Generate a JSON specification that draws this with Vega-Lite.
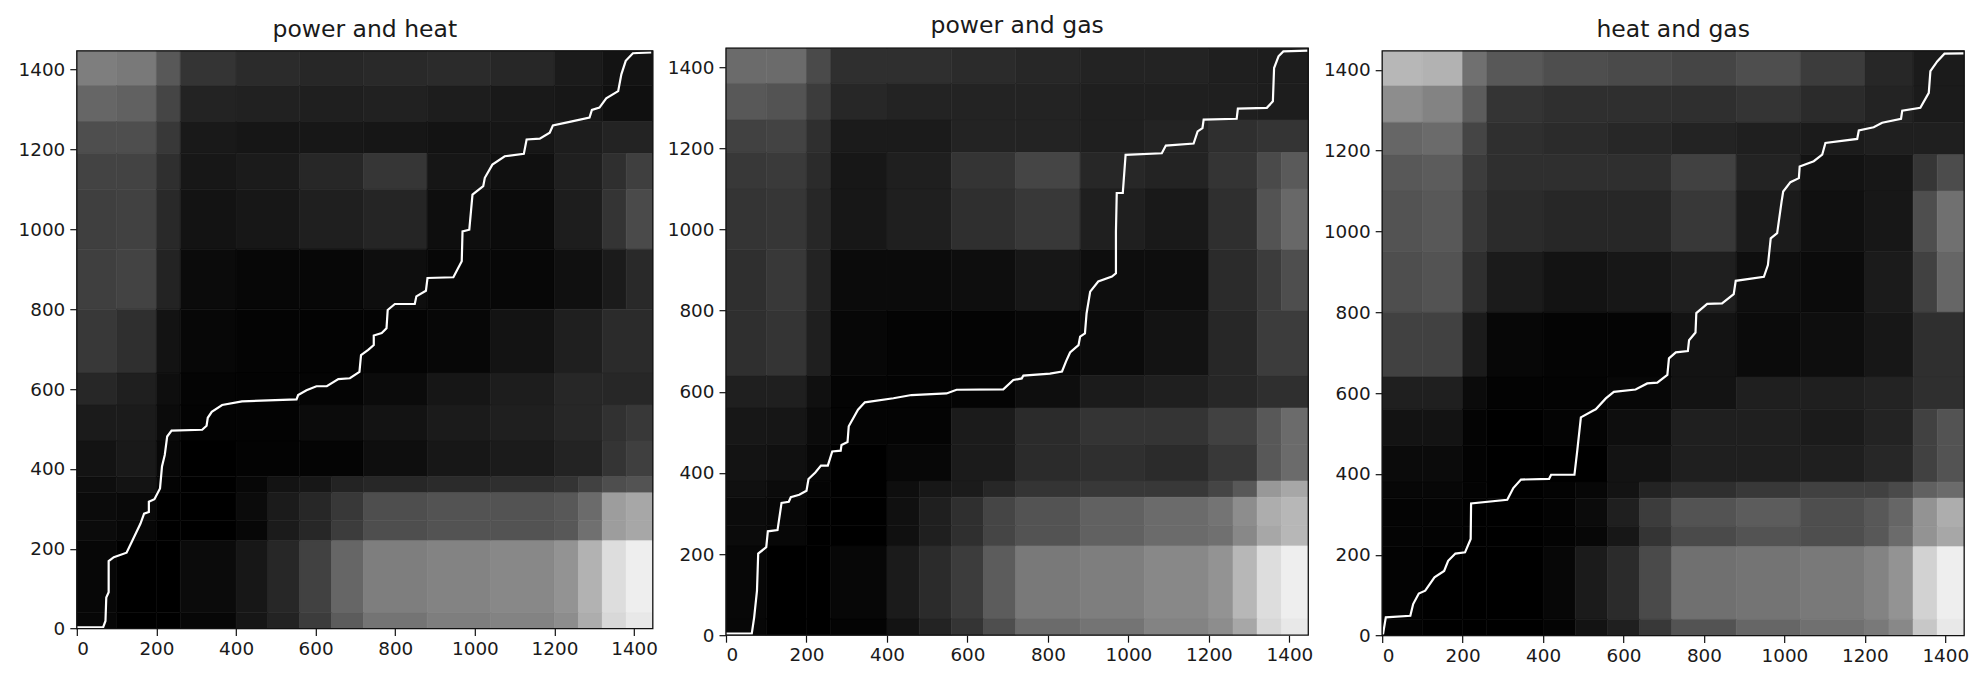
{"$schema":"https://vega.github.io/schema/vega-lite/v6.json","background":"white","padding":{"left":17.8,"top":14.2,"right":0,"bottom":0},"bounds":"flush","spacing":73.2,"config":{"view":{"stroke":null},"font":"DejaVu Sans","title":{"font":"DejaVu Sans","fontSize":23.5,"fontWeight":"normal","color":"#1a1a1a","anchor":"middle","baseline":"alphabetic"}},"datasets":{"f":[{"x":0,"x2":1447,"y":0,"y2":1447}],"a":[
{"x":0,"x2":100,"y":1360,"y2":1447,"v":135},{"x":100,"x2":200,"y":1360,"y2":1447,"v":130},{"x":200,"x2":260,"y":1360,"y2":1447,"v":95},{"x":260,"x2":400,"y":1360,"y2":1447,"v":55},{"x":400,"x2":560,"y":1360,"y2":1447,"v":45},{"x":560,"x2":720,"y":1360,"y2":1447,"v":40},{"x":720,"x2":880,"y":1360,"y2":1447,"v":42},{"x":880,"x2":1040,"y":1360,"y2":1447,"v":45},{"x":1040,"x2":1200,"y":1360,"y2":1447,"v":40},{"x":1200,"x2":1320,"y":1360,"y2":1447,"v":25},{"x":1320,"x2":1447,"y":1360,"y2":1447,"v":15},
{"x":0,"x2":100,"y":1270,"y2":1360,"v":110},{"x":100,"x2":200,"y":1270,"y2":1360,"v":105},{"x":200,"x2":260,"y":1270,"y2":1360,"v":75},{"x":260,"x2":400,"y":1270,"y2":1360,"v":35},{"x":400,"x2":560,"y":1270,"y2":1360,"v":32},{"x":560,"x2":720,"y":1270,"y2":1360,"v":30},{"x":720,"x2":880,"y":1270,"y2":1360,"v":32},{"x":880,"x2":1040,"y":1270,"y2":1360,"v":28},{"x":1040,"x2":1200,"y":1270,"y2":1360,"v":22},{"x":1200,"x2":1320,"y":1270,"y2":1360,"v":20},{"x":1320,"x2":1447,"y":1270,"y2":1360,"v":12},
{"x":0,"x2":100,"y":1190,"y2":1270,"v":85},{"x":100,"x2":200,"y":1190,"y2":1270,"v":85},{"x":200,"x2":260,"y":1190,"y2":1270,"v":60},{"x":260,"x2":400,"y":1190,"y2":1270,"v":22},{"x":400,"x2":560,"y":1190,"y2":1270,"v":18},{"x":560,"x2":720,"y":1190,"y2":1270,"v":20},{"x":720,"x2":880,"y":1190,"y2":1270,"v":18},{"x":880,"x2":1040,"y":1190,"y2":1270,"v":15},{"x":1040,"x2":1200,"y":1190,"y2":1270,"v":18},{"x":1200,"x2":1320,"y":1190,"y2":1270,"v":28},{"x":1320,"x2":1447,"y":1190,"y2":1270,"v":35},
{"x":0,"x2":100,"y":1100,"y2":1190,"v":72},{"x":100,"x2":200,"y":1100,"y2":1190,"v":72},{"x":200,"x2":260,"y":1100,"y2":1190,"v":50},{"x":260,"x2":400,"y":1100,"y2":1190,"v":20},{"x":400,"x2":560,"y":1100,"y2":1190,"v":25},{"x":560,"x2":720,"y":1100,"y2":1190,"v":40},{"x":720,"x2":880,"y":1100,"y2":1190,"v":58},{"x":880,"x2":1040,"y":1100,"y2":1190,"v":18},{"x":1040,"x2":1200,"y":1100,"y2":1190,"v":12},{"x":1200,"x2":1320,"y":1100,"y2":1190,"v":30},{"x":1320,"x2":1380,"y":1100,"y2":1190,"v":50},{"x":1380,"x2":1447,"y":1100,"y2":1190,"v":68},
{"x":0,"x2":100,"y":950,"y2":1100,"v":68},{"x":100,"x2":200,"y":950,"y2":1100,"v":70},{"x":200,"x2":260,"y":950,"y2":1100,"v":42},{"x":260,"x2":400,"y":950,"y2":1100,"v":15},{"x":400,"x2":560,"y":950,"y2":1100,"v":20},{"x":560,"x2":720,"y":950,"y2":1100,"v":30},{"x":720,"x2":880,"y":950,"y2":1100,"v":38},{"x":880,"x2":1040,"y":950,"y2":1100,"v":10},{"x":1040,"x2":1200,"y":950,"y2":1100,"v":8},{"x":1200,"x2":1320,"y":950,"y2":1100,"v":28},{"x":1320,"x2":1380,"y":950,"y2":1100,"v":55},{"x":1380,"x2":1447,"y":950,"y2":1100,"v":80},
{"x":0,"x2":100,"y":800,"y2":950,"v":68},{"x":100,"x2":200,"y":800,"y2":950,"v":72},{"x":200,"x2":260,"y":800,"y2":950,"v":35},{"x":260,"x2":400,"y":800,"y2":950,"v":8},{"x":400,"x2":560,"y":800,"y2":950,"v":5},{"x":560,"x2":720,"y":800,"y2":950,"v":5},{"x":720,"x2":880,"y":800,"y2":950,"v":10},{"x":880,"x2":1040,"y":800,"y2":950,"v":5},{"x":1040,"x2":1200,"y":800,"y2":950,"v":5},{"x":1200,"x2":1320,"y":800,"y2":950,"v":12},{"x":1320,"x2":1380,"y":800,"y2":950,"v":25},{"x":1380,"x2":1447,"y":800,"y2":950,"v":42},
{"x":0,"x2":100,"y":640,"y2":800,"v":60},{"x":100,"x2":200,"y":640,"y2":800,"v":50},{"x":200,"x2":260,"y":640,"y2":800,"v":15},{"x":260,"x2":400,"y":640,"y2":800,"v":5},{"x":400,"x2":560,"y":640,"y2":800,"v":3},{"x":560,"x2":720,"y":640,"y2":800,"v":2},{"x":720,"x2":880,"y":640,"y2":800,"v":3},{"x":880,"x2":1040,"y":640,"y2":800,"v":5},{"x":1040,"x2":1200,"y":640,"y2":800,"v":15},{"x":1200,"x2":1320,"y":640,"y2":800,"v":30},{"x":1320,"x2":1447,"y":640,"y2":800,"v":45},
{"x":0,"x2":100,"y":560,"y2":640,"v":40},{"x":100,"x2":200,"y":560,"y2":640,"v":30},{"x":200,"x2":260,"y":560,"y2":640,"v":10},{"x":260,"x2":400,"y":560,"y2":640,"v":3},{"x":400,"x2":560,"y":560,"y2":640,"v":2},{"x":560,"x2":720,"y":560,"y2":640,"v":3},{"x":720,"x2":880,"y":560,"y2":640,"v":8},{"x":880,"x2":1040,"y":560,"y2":640,"v":18},{"x":1040,"x2":1200,"y":560,"y2":640,"v":28},{"x":1200,"x2":1320,"y":560,"y2":640,"v":40},{"x":1320,"x2":1447,"y":560,"y2":640,"v":40},
{"x":0,"x2":100,"y":470,"y2":560,"v":25},{"x":100,"x2":200,"y":470,"y2":560,"v":25},{"x":200,"x2":260,"y":470,"y2":560,"v":8},{"x":260,"x2":400,"y":470,"y2":560,"v":2},{"x":400,"x2":560,"y":470,"y2":560,"v":2},{"x":560,"x2":720,"y":470,"y2":560,"v":8},{"x":720,"x2":880,"y":470,"y2":560,"v":15},{"x":880,"x2":1040,"y":470,"y2":560,"v":25},{"x":1040,"x2":1200,"y":470,"y2":560,"v":30},{"x":1200,"x2":1320,"y":470,"y2":560,"v":40},{"x":1320,"x2":1380,"y":470,"y2":560,"v":52},{"x":1380,"x2":1447,"y":470,"y2":560,"v":60},
{"x":0,"x2":100,"y":380,"y2":470,"v":15},{"x":100,"x2":200,"y":380,"y2":470,"v":22},{"x":200,"x2":260,"y":380,"y2":470,"v":5},{"x":260,"x2":400,"y":380,"y2":470,"v":0},{"x":400,"x2":560,"y":380,"y2":470,"v":2},{"x":560,"x2":720,"y":380,"y2":470,"v":3},{"x":720,"x2":880,"y":380,"y2":470,"v":10},{"x":880,"x2":1040,"y":380,"y2":470,"v":20},{"x":1040,"x2":1200,"y":380,"y2":470,"v":25},{"x":1200,"x2":1320,"y":380,"y2":470,"v":35},{"x":1320,"x2":1380,"y":380,"y2":470,"v":55},{"x":1380,"x2":1447,"y":380,"y2":470,"v":68},
{"x":0,"x2":100,"y":340,"y2":380,"v":10},{"x":100,"x2":200,"y":340,"y2":380,"v":15},{"x":200,"x2":260,"y":340,"y2":380,"v":3},{"x":260,"x2":400,"y":340,"y2":380,"v":0},{"x":400,"x2":480,"y":340,"y2":380,"v":5},{"x":480,"x2":560,"y":340,"y2":380,"v":15},{"x":560,"x2":640,"y":340,"y2":380,"v":20},{"x":640,"x2":720,"y":340,"y2":380,"v":35},{"x":720,"x2":880,"y":340,"y2":380,"v":40},{"x":880,"x2":1040,"y":340,"y2":380,"v":45},{"x":1040,"x2":1200,"y":340,"y2":380,"v":50},{"x":1200,"x2":1260,"y":340,"y2":380,"v":55},{"x":1260,"x2":1320,"y":340,"y2":380,"v":70},{"x":1320,"x2":1380,"y":340,"y2":380,"v":85},{"x":1380,"x2":1447,"y":340,"y2":380,"v":90},
{"x":0,"x2":100,"y":270,"y2":340,"v":8},{"x":100,"x2":200,"y":270,"y2":340,"v":6},{"x":200,"x2":260,"y":270,"y2":340,"v":0},{"x":260,"x2":400,"y":270,"y2":340,"v":0},{"x":400,"x2":480,"y":270,"y2":340,"v":8},{"x":480,"x2":560,"y":270,"y2":340,"v":25},{"x":560,"x2":640,"y":270,"y2":340,"v":40},{"x":640,"x2":720,"y":270,"y2":340,"v":60},{"x":720,"x2":880,"y":270,"y2":340,"v":85},{"x":880,"x2":1040,"y":270,"y2":340,"v":90},{"x":1040,"x2":1200,"y":270,"y2":340,"v":90},{"x":1200,"x2":1260,"y":270,"y2":340,"v":95},{"x":1260,"x2":1320,"y":270,"y2":340,"v":115},{"x":1320,"x2":1380,"y":270,"y2":340,"v":165},{"x":1380,"x2":1447,"y":270,"y2":340,"v":175},
{"x":0,"x2":100,"y":220,"y2":270,"v":8},{"x":100,"x2":200,"y":220,"y2":270,"v":5},{"x":200,"x2":260,"y":220,"y2":270,"v":0},{"x":260,"x2":400,"y":220,"y2":270,"v":0},{"x":400,"x2":480,"y":220,"y2":270,"v":5},{"x":480,"x2":560,"y":220,"y2":270,"v":25},{"x":560,"x2":640,"y":220,"y2":270,"v":40},{"x":640,"x2":720,"y":220,"y2":270,"v":65},{"x":720,"x2":880,"y":220,"y2":270,"v":85},{"x":880,"x2":1040,"y":220,"y2":270,"v":90},{"x":1040,"x2":1200,"y":220,"y2":270,"v":90},{"x":1200,"x2":1260,"y":220,"y2":270,"v":95},{"x":1260,"x2":1320,"y":220,"y2":270,"v":120},{"x":1320,"x2":1380,"y":220,"y2":270,"v":165},{"x":1380,"x2":1447,"y":220,"y2":270,"v":175},
{"x":0,"x2":100,"y":40,"y2":220,"v":5},{"x":100,"x2":200,"y":40,"y2":220,"v":0},{"x":200,"x2":260,"y":40,"y2":220,"v":0},{"x":260,"x2":400,"y":40,"y2":220,"v":8},{"x":400,"x2":480,"y":40,"y2":220,"v":20},{"x":480,"x2":560,"y":40,"y2":220,"v":40},{"x":560,"x2":640,"y":40,"y2":220,"v":70},{"x":640,"x2":720,"y":40,"y2":220,"v":110},{"x":720,"x2":880,"y":40,"y2":220,"v":135},{"x":880,"x2":1040,"y":40,"y2":220,"v":140},{"x":1040,"x2":1200,"y":40,"y2":220,"v":145},{"x":1200,"x2":1260,"y":40,"y2":220,"v":155},{"x":1260,"x2":1320,"y":40,"y2":220,"v":185},{"x":1320,"x2":1380,"y":40,"y2":220,"v":225},{"x":1380,"x2":1447,"y":40,"y2":220,"v":240},
{"x":0,"x2":100,"y":0,"y2":40,"v":5},{"x":100,"x2":200,"y":0,"y2":40,"v":0},{"x":200,"x2":260,"y":0,"y2":40,"v":0},{"x":260,"x2":400,"y":0,"y2":40,"v":5},{"x":400,"x2":480,"y":0,"y2":40,"v":18},{"x":480,"x2":560,"y":0,"y2":40,"v":35},{"x":560,"x2":640,"y":0,"y2":40,"v":65},{"x":640,"x2":720,"y":0,"y2":40,"v":100},{"x":720,"x2":880,"y":0,"y2":40,"v":125},{"x":880,"x2":1040,"y":0,"y2":40,"v":135},{"x":1040,"x2":1200,"y":0,"y2":40,"v":140},{"x":1200,"x2":1260,"y":0,"y2":40,"v":150},{"x":1260,"x2":1320,"y":0,"y2":40,"v":180},{"x":1320,"x2":1380,"y":0,"y2":40,"v":220},{"x":1380,"x2":1447,"y":0,"y2":40,"v":235}
],"b":[
{"x":0,"x2":100,"y":1360,"y2":1447,"v":115},{"x":100,"x2":200,"y":1360,"y2":1447,"v":115},{"x":200,"x2":260,"y":1360,"y2":1447,"v":80},{"x":260,"x2":400,"y":1360,"y2":1447,"v":50},{"x":400,"x2":560,"y":1360,"y2":1447,"v":50},{"x":560,"x2":720,"y":1360,"y2":1447,"v":45},{"x":720,"x2":880,"y":1360,"y2":1447,"v":40},{"x":880,"x2":1040,"y":1360,"y2":1447,"v":35},{"x":1040,"x2":1200,"y":1360,"y2":1447,"v":35},{"x":1200,"x2":1320,"y":1360,"y2":1447,"v":30},{"x":1320,"x2":1447,"y":1360,"y2":1447,"v":28},
{"x":0,"x2":100,"y":1270,"y2":1360,"v":95},{"x":100,"x2":200,"y":1270,"y2":1360,"v":90},{"x":200,"x2":260,"y":1270,"y2":1360,"v":65},{"x":260,"x2":400,"y":1270,"y2":1360,"v":40},{"x":400,"x2":560,"y":1270,"y2":1360,"v":35},{"x":560,"x2":720,"y":1270,"y2":1360,"v":35},{"x":720,"x2":880,"y":1270,"y2":1360,"v":35},{"x":880,"x2":1040,"y":1270,"y2":1360,"v":30},{"x":1040,"x2":1200,"y":1270,"y2":1360,"v":30},{"x":1200,"x2":1320,"y":1270,"y2":1360,"v":30},{"x":1320,"x2":1447,"y":1270,"y2":1360,"v":28},
{"x":0,"x2":100,"y":1190,"y2":1270,"v":70},{"x":100,"x2":200,"y":1190,"y2":1270,"v":72},{"x":200,"x2":260,"y":1190,"y2":1270,"v":50},{"x":260,"x2":400,"y":1190,"y2":1270,"v":25},{"x":400,"x2":560,"y":1190,"y2":1270,"v":25},{"x":560,"x2":720,"y":1190,"y2":1270,"v":35},{"x":720,"x2":880,"y":1190,"y2":1270,"v":35},{"x":880,"x2":1040,"y":1190,"y2":1270,"v":30},{"x":1040,"x2":1200,"y":1190,"y2":1270,"v":35},{"x":1200,"x2":1320,"y":1190,"y2":1270,"v":50},{"x":1320,"x2":1447,"y":1190,"y2":1270,"v":55},
{"x":0,"x2":100,"y":1100,"y2":1190,"v":60},{"x":100,"x2":200,"y":1100,"y2":1190,"v":62},{"x":200,"x2":260,"y":1100,"y2":1190,"v":45},{"x":260,"x2":400,"y":1100,"y2":1190,"v":20},{"x":400,"x2":560,"y":1100,"y2":1190,"v":30},{"x":560,"x2":720,"y":1100,"y2":1190,"v":55},{"x":720,"x2":880,"y":1100,"y2":1190,"v":75},{"x":880,"x2":1040,"y":1100,"y2":1190,"v":40},{"x":1040,"x2":1200,"y":1100,"y2":1190,"v":35},{"x":1200,"x2":1320,"y":1100,"y2":1190,"v":55},{"x":1320,"x2":1380,"y":1100,"y2":1190,"v":80},{"x":1380,"x2":1447,"y":1100,"y2":1190,"v":98},
{"x":0,"x2":100,"y":950,"y2":1100,"v":55},{"x":100,"x2":200,"y":950,"y2":1100,"v":58},{"x":200,"x2":260,"y":950,"y2":1100,"v":40},{"x":260,"x2":400,"y":950,"y2":1100,"v":20},{"x":400,"x2":560,"y":950,"y2":1100,"v":30},{"x":560,"x2":720,"y":950,"y2":1100,"v":50},{"x":720,"x2":880,"y":950,"y2":1100,"v":60},{"x":880,"x2":1040,"y":950,"y2":1100,"v":30},{"x":1040,"x2":1200,"y":950,"y2":1100,"v":22},{"x":1200,"x2":1320,"y":950,"y2":1100,"v":50},{"x":1320,"x2":1380,"y":950,"y2":1100,"v":90},{"x":1380,"x2":1447,"y":950,"y2":1100,"v":112},
{"x":0,"x2":100,"y":800,"y2":950,"v":50},{"x":100,"x2":200,"y":800,"y2":950,"v":60},{"x":200,"x2":260,"y":800,"y2":950,"v":35},{"x":260,"x2":400,"y":800,"y2":950,"v":8},{"x":400,"x2":560,"y":800,"y2":950,"v":8},{"x":560,"x2":720,"y":800,"y2":950,"v":10},{"x":720,"x2":880,"y":800,"y2":950,"v":20},{"x":880,"x2":1040,"y":800,"y2":950,"v":10},{"x":1040,"x2":1200,"y":800,"y2":950,"v":10},{"x":1200,"x2":1320,"y":800,"y2":950,"v":45},{"x":1320,"x2":1380,"y":800,"y2":950,"v":65},{"x":1380,"x2":1447,"y":800,"y2":950,"v":85},
{"x":0,"x2":100,"y":640,"y2":800,"v":50},{"x":100,"x2":200,"y":640,"y2":800,"v":55},{"x":200,"x2":260,"y":640,"y2":800,"v":30},{"x":260,"x2":400,"y":640,"y2":800,"v":5},{"x":400,"x2":560,"y":640,"y2":800,"v":3},{"x":560,"x2":720,"y":640,"y2":800,"v":3},{"x":720,"x2":880,"y":640,"y2":800,"v":5},{"x":880,"x2":1040,"y":640,"y2":800,"v":8},{"x":1040,"x2":1200,"y":640,"y2":800,"v":15},{"x":1200,"x2":1320,"y":640,"y2":800,"v":40},{"x":1320,"x2":1447,"y":640,"y2":800,"v":65},
{"x":0,"x2":100,"y":560,"y2":640,"v":30},{"x":100,"x2":200,"y":560,"y2":640,"v":30},{"x":200,"x2":260,"y":560,"y2":640,"v":12},{"x":260,"x2":400,"y":560,"y2":640,"v":3},{"x":400,"x2":560,"y":560,"y2":640,"v":2},{"x":560,"x2":720,"y":560,"y2":640,"v":3},{"x":720,"x2":880,"y":560,"y2":640,"v":10},{"x":880,"x2":1040,"y":560,"y2":640,"v":25},{"x":1040,"x2":1200,"y":560,"y2":640,"v":30},{"x":1200,"x2":1320,"y":560,"y2":640,"v":40},{"x":1320,"x2":1447,"y":560,"y2":640,"v":50},
{"x":0,"x2":100,"y":470,"y2":560,"v":20},{"x":100,"x2":200,"y":470,"y2":560,"v":18},{"x":200,"x2":260,"y":470,"y2":560,"v":8},{"x":260,"x2":400,"y":470,"y2":560,"v":3},{"x":400,"x2":560,"y":470,"y2":560,"v":3},{"x":560,"x2":720,"y":470,"y2":560,"v":25},{"x":720,"x2":880,"y":470,"y2":560,"v":45},{"x":880,"x2":1040,"y":470,"y2":560,"v":55},{"x":1040,"x2":1200,"y":470,"y2":560,"v":55},{"x":1200,"x2":1320,"y":470,"y2":560,"v":70},{"x":1320,"x2":1380,"y":470,"y2":560,"v":95},{"x":1380,"x2":1447,"y":470,"y2":560,"v":115},
{"x":0,"x2":100,"y":380,"y2":470,"v":15},{"x":100,"x2":200,"y":380,"y2":470,"v":12},{"x":200,"x2":260,"y":380,"y2":470,"v":5},{"x":260,"x2":400,"y":380,"y2":470,"v":0},{"x":400,"x2":560,"y":380,"y2":470,"v":5},{"x":560,"x2":720,"y":380,"y2":470,"v":25},{"x":720,"x2":880,"y":380,"y2":470,"v":45},{"x":880,"x2":1040,"y":380,"y2":470,"v":50},{"x":1040,"x2":1200,"y":380,"y2":470,"v":45},{"x":1200,"x2":1320,"y":380,"y2":470,"v":60},{"x":1320,"x2":1380,"y":380,"y2":470,"v":95},{"x":1380,"x2":1447,"y":380,"y2":470,"v":115},
{"x":0,"x2":100,"y":340,"y2":380,"v":12},{"x":100,"x2":200,"y":340,"y2":380,"v":8},{"x":200,"x2":260,"y":340,"y2":380,"v":3},{"x":260,"x2":400,"y":340,"y2":380,"v":0},{"x":400,"x2":480,"y":340,"y2":380,"v":10},{"x":480,"x2":560,"y":340,"y2":380,"v":20},{"x":560,"x2":640,"y":340,"y2":380,"v":25},{"x":640,"x2":720,"y":340,"y2":380,"v":40},{"x":720,"x2":880,"y":340,"y2":380,"v":55},{"x":880,"x2":1040,"y":340,"y2":380,"v":60},{"x":1040,"x2":1200,"y":340,"y2":380,"v":60},{"x":1200,"x2":1260,"y":340,"y2":380,"v":75},{"x":1260,"x2":1320,"y":340,"y2":380,"v":95},{"x":1320,"x2":1380,"y":340,"y2":380,"v":160},{"x":1380,"x2":1447,"y":340,"y2":380,"v":175},
{"x":0,"x2":100,"y":270,"y2":340,"v":8},{"x":100,"x2":200,"y":270,"y2":340,"v":5},{"x":200,"x2":260,"y":270,"y2":340,"v":0},{"x":260,"x2":400,"y":270,"y2":340,"v":0},{"x":400,"x2":480,"y":270,"y2":340,"v":12},{"x":480,"x2":560,"y":270,"y2":340,"v":30},{"x":560,"x2":640,"y":270,"y2":340,"v":50},{"x":640,"x2":720,"y":270,"y2":340,"v":75},{"x":720,"x2":880,"y":270,"y2":340,"v":90},{"x":880,"x2":1040,"y":270,"y2":340,"v":105},{"x":1040,"x2":1200,"y":270,"y2":340,"v":115},{"x":1200,"x2":1260,"y":270,"y2":340,"v":125},{"x":1260,"x2":1320,"y":270,"y2":340,"v":150},{"x":1320,"x2":1380,"y":270,"y2":340,"v":180},{"x":1380,"x2":1447,"y":270,"y2":340,"v":190},
{"x":0,"x2":100,"y":220,"y2":270,"v":8},{"x":100,"x2":200,"y":220,"y2":270,"v":5},{"x":200,"x2":260,"y":220,"y2":270,"v":0},{"x":260,"x2":400,"y":220,"y2":270,"v":0},{"x":400,"x2":480,"y":220,"y2":270,"v":12},{"x":480,"x2":560,"y":220,"y2":270,"v":30},{"x":560,"x2":640,"y":220,"y2":270,"v":50},{"x":640,"x2":720,"y":220,"y2":270,"v":75},{"x":720,"x2":880,"y":220,"y2":270,"v":90},{"x":880,"x2":1040,"y":220,"y2":270,"v":105},{"x":1040,"x2":1200,"y":220,"y2":270,"v":115},{"x":1200,"x2":1260,"y":220,"y2":270,"v":120},{"x":1260,"x2":1320,"y":220,"y2":270,"v":145},{"x":1320,"x2":1380,"y":220,"y2":270,"v":175},{"x":1380,"x2":1447,"y":220,"y2":270,"v":190},
{"x":0,"x2":100,"y":40,"y2":220,"v":5},{"x":100,"x2":200,"y":40,"y2":220,"v":0},{"x":200,"x2":260,"y":40,"y2":220,"v":0},{"x":260,"x2":400,"y":40,"y2":220,"v":5},{"x":400,"x2":480,"y":40,"y2":220,"v":25},{"x":480,"x2":560,"y":40,"y2":220,"v":45},{"x":560,"x2":640,"y":40,"y2":220,"v":65},{"x":640,"x2":720,"y":40,"y2":220,"v":100},{"x":720,"x2":880,"y":40,"y2":220,"v":130},{"x":880,"x2":1040,"y":40,"y2":220,"v":135},{"x":1040,"x2":1200,"y":40,"y2":220,"v":145},{"x":1200,"x2":1260,"y":40,"y2":220,"v":155},{"x":1260,"x2":1320,"y":40,"y2":220,"v":190},{"x":1320,"x2":1380,"y":40,"y2":220,"v":225},{"x":1380,"x2":1447,"y":40,"y2":220,"v":240},
{"x":0,"x2":100,"y":0,"y2":40,"v":5},{"x":100,"x2":200,"y":0,"y2":40,"v":0},{"x":200,"x2":260,"y":0,"y2":40,"v":0},{"x":260,"x2":400,"y":0,"y2":40,"v":3},{"x":400,"x2":480,"y":0,"y2":40,"v":15},{"x":480,"x2":560,"y":0,"y2":40,"v":35},{"x":560,"x2":640,"y":0,"y2":40,"v":55},{"x":640,"x2":720,"y":0,"y2":40,"v":85},{"x":720,"x2":880,"y":0,"y2":40,"v":115},{"x":880,"x2":1040,"y":0,"y2":40,"v":125},{"x":1040,"x2":1200,"y":0,"y2":40,"v":140},{"x":1200,"x2":1260,"y":0,"y2":40,"v":150},{"x":1260,"x2":1320,"y":0,"y2":40,"v":175},{"x":1320,"x2":1380,"y":0,"y2":40,"v":220},{"x":1380,"x2":1447,"y":0,"y2":40,"v":235}
],"c":[
{"x":0,"x2":100,"y":1360,"y2":1447,"v":190},{"x":100,"x2":200,"y":1360,"y2":1447,"v":185},{"x":200,"x2":260,"y":1360,"y2":1447,"v":120},{"x":260,"x2":400,"y":1360,"y2":1447,"v":95},{"x":400,"x2":560,"y":1360,"y2":1447,"v":85},{"x":560,"x2":720,"y":1360,"y2":1447,"v":80},{"x":720,"x2":880,"y":1360,"y2":1447,"v":75},{"x":880,"x2":1040,"y":1360,"y2":1447,"v":85},{"x":1040,"x2":1200,"y":1360,"y2":1447,"v":65},{"x":1200,"x2":1320,"y":1360,"y2":1447,"v":40},{"x":1320,"x2":1447,"y":1360,"y2":1447,"v":25},
{"x":0,"x2":100,"y":1270,"y2":1360,"v":150},{"x":100,"x2":200,"y":1270,"y2":1360,"v":140},{"x":200,"x2":260,"y":1270,"y2":1360,"v":100},{"x":260,"x2":400,"y":1270,"y2":1360,"v":55},{"x":400,"x2":560,"y":1270,"y2":1360,"v":50},{"x":560,"x2":720,"y":1270,"y2":1360,"v":50},{"x":720,"x2":880,"y":1270,"y2":1360,"v":50},{"x":880,"x2":1040,"y":1270,"y2":1360,"v":55},{"x":1040,"x2":1200,"y":1270,"y2":1360,"v":45},{"x":1200,"x2":1320,"y":1270,"y2":1360,"v":35},{"x":1320,"x2":1447,"y":1270,"y2":1360,"v":25},
{"x":0,"x2":100,"y":1190,"y2":1270,"v":110},{"x":100,"x2":200,"y":1190,"y2":1270,"v":115},{"x":200,"x2":260,"y":1190,"y2":1270,"v":75},{"x":260,"x2":400,"y":1190,"y2":1270,"v":50},{"x":400,"x2":560,"y":1190,"y2":1270,"v":45},{"x":560,"x2":720,"y":1190,"y2":1270,"v":40},{"x":720,"x2":880,"y":1190,"y2":1270,"v":35},{"x":880,"x2":1040,"y":1190,"y2":1270,"v":30},{"x":1040,"x2":1200,"y":1190,"y2":1270,"v":25},{"x":1200,"x2":1320,"y":1190,"y2":1270,"v":30},{"x":1320,"x2":1447,"y":1190,"y2":1270,"v":30},
{"x":0,"x2":100,"y":1100,"y2":1190,"v":95},{"x":100,"x2":200,"y":1100,"y2":1190,"v":100},{"x":200,"x2":260,"y":1100,"y2":1190,"v":65},{"x":260,"x2":400,"y":1100,"y2":1190,"v":50},{"x":400,"x2":560,"y":1100,"y2":1190,"v":50},{"x":560,"x2":720,"y":1100,"y2":1190,"v":50},{"x":720,"x2":880,"y":1100,"y2":1190,"v":70},{"x":880,"x2":1040,"y":1100,"y2":1190,"v":35},{"x":1040,"x2":1200,"y":1100,"y2":1190,"v":15},{"x":1200,"x2":1320,"y":1100,"y2":1190,"v":20},{"x":1320,"x2":1380,"y":1100,"y2":1190,"v":58},{"x":1380,"x2":1447,"y":1100,"y2":1190,"v":82},
{"x":0,"x2":100,"y":950,"y2":1100,"v":90},{"x":100,"x2":200,"y":950,"y2":1100,"v":95},{"x":200,"x2":260,"y":950,"y2":1100,"v":60},{"x":260,"x2":400,"y":950,"y2":1100,"v":45},{"x":400,"x2":560,"y":950,"y2":1100,"v":40},{"x":560,"x2":720,"y":950,"y2":1100,"v":40},{"x":720,"x2":880,"y":950,"y2":1100,"v":60},{"x":880,"x2":1040,"y":950,"y2":1100,"v":25},{"x":1040,"x2":1200,"y":950,"y2":1100,"v":12},{"x":1200,"x2":1320,"y":950,"y2":1100,"v":20},{"x":1320,"x2":1380,"y":950,"y2":1100,"v":85},{"x":1380,"x2":1447,"y":950,"y2":1100,"v":120},
{"x":0,"x2":100,"y":800,"y2":950,"v":85},{"x":100,"x2":200,"y":800,"y2":950,"v":90},{"x":200,"x2":260,"y":800,"y2":950,"v":50},{"x":260,"x2":400,"y":800,"y2":950,"v":25},{"x":400,"x2":560,"y":800,"y2":950,"v":15},{"x":560,"x2":720,"y":800,"y2":950,"v":20},{"x":720,"x2":880,"y":800,"y2":950,"v":30},{"x":880,"x2":1040,"y":800,"y2":950,"v":10},{"x":1040,"x2":1200,"y":800,"y2":950,"v":8},{"x":1200,"x2":1320,"y":800,"y2":950,"v":25},{"x":1320,"x2":1380,"y":800,"y2":950,"v":70},{"x":1380,"x2":1447,"y":800,"y2":950,"v":110},
{"x":0,"x2":100,"y":640,"y2":800,"v":70},{"x":100,"x2":200,"y":640,"y2":800,"v":70},{"x":200,"x2":260,"y":640,"y2":800,"v":25},{"x":260,"x2":400,"y":640,"y2":800,"v":5},{"x":400,"x2":560,"y":640,"y2":800,"v":3},{"x":560,"x2":720,"y":640,"y2":800,"v":3},{"x":720,"x2":880,"y":640,"y2":800,"v":15},{"x":880,"x2":1040,"y":640,"y2":800,"v":8},{"x":1040,"x2":1200,"y":640,"y2":800,"v":10},{"x":1200,"x2":1320,"y":640,"y2":800,"v":20},{"x":1320,"x2":1447,"y":640,"y2":800,"v":50},
{"x":0,"x2":100,"y":560,"y2":640,"v":30},{"x":100,"x2":200,"y":560,"y2":640,"v":30},{"x":200,"x2":260,"y":560,"y2":640,"v":8},{"x":260,"x2":400,"y":560,"y2":640,"v":2},{"x":400,"x2":560,"y":560,"y2":640,"v":2},{"x":560,"x2":720,"y":560,"y2":640,"v":5},{"x":720,"x2":880,"y":560,"y2":640,"v":15},{"x":880,"x2":1040,"y":560,"y2":640,"v":30},{"x":1040,"x2":1200,"y":560,"y2":640,"v":30},{"x":1200,"x2":1320,"y":560,"y2":640,"v":35},{"x":1320,"x2":1447,"y":560,"y2":640,"v":50},
{"x":0,"x2":100,"y":470,"y2":560,"v":15},{"x":100,"x2":200,"y":470,"y2":560,"v":15},{"x":200,"x2":260,"y":470,"y2":560,"v":3},{"x":260,"x2":400,"y":470,"y2":560,"v":0},{"x":400,"x2":560,"y":470,"y2":560,"v":3},{"x":560,"x2":720,"y":470,"y2":560,"v":10},{"x":720,"x2":880,"y":470,"y2":560,"v":30},{"x":880,"x2":1040,"y":470,"y2":560,"v":30},{"x":1040,"x2":1200,"y":470,"y2":560,"v":25},{"x":1200,"x2":1320,"y":470,"y2":560,"v":35},{"x":1320,"x2":1380,"y":470,"y2":560,"v":70},{"x":1380,"x2":1447,"y":470,"y2":560,"v":90},
{"x":0,"x2":100,"y":380,"y2":470,"v":8},{"x":100,"x2":200,"y":380,"y2":470,"v":8},{"x":200,"x2":260,"y":380,"y2":470,"v":2},{"x":260,"x2":400,"y":380,"y2":470,"v":0},{"x":400,"x2":560,"y":380,"y2":470,"v":0},{"x":560,"x2":720,"y":380,"y2":470,"v":15},{"x":720,"x2":880,"y":380,"y2":470,"v":30},{"x":880,"x2":1040,"y":380,"y2":470,"v":30},{"x":1040,"x2":1200,"y":380,"y2":470,"v":30},{"x":1200,"x2":1320,"y":380,"y2":470,"v":40},{"x":1320,"x2":1380,"y":380,"y2":470,"v":70},{"x":1380,"x2":1447,"y":380,"y2":470,"v":90},
{"x":0,"x2":100,"y":340,"y2":380,"v":5},{"x":100,"x2":200,"y":340,"y2":380,"v":5},{"x":200,"x2":260,"y":340,"y2":380,"v":2},{"x":260,"x2":400,"y":340,"y2":380,"v":0},{"x":400,"x2":480,"y":340,"y2":380,"v":2},{"x":480,"x2":560,"y":340,"y2":380,"v":5},{"x":560,"x2":640,"y":340,"y2":380,"v":15},{"x":640,"x2":720,"y":340,"y2":380,"v":35},{"x":720,"x2":880,"y":340,"y2":380,"v":50},{"x":880,"x2":1040,"y":340,"y2":380,"v":60},{"x":1040,"x2":1200,"y":340,"y2":380,"v":70},{"x":1200,"x2":1260,"y":340,"y2":380,"v":70},{"x":1260,"x2":1320,"y":340,"y2":380,"v":80},{"x":1320,"x2":1380,"y":340,"y2":380,"v":105},{"x":1380,"x2":1447,"y":340,"y2":380,"v":115},
{"x":0,"x2":100,"y":270,"y2":340,"v":3},{"x":100,"x2":200,"y":270,"y2":340,"v":3},{"x":200,"x2":260,"y":270,"y2":340,"v":0},{"x":260,"x2":400,"y":270,"y2":340,"v":0},{"x":400,"x2":480,"y":270,"y2":340,"v":2},{"x":480,"x2":560,"y":270,"y2":340,"v":8},{"x":560,"x2":640,"y":270,"y2":340,"v":30},{"x":640,"x2":720,"y":270,"y2":340,"v":65},{"x":720,"x2":880,"y":270,"y2":340,"v":90},{"x":880,"x2":1040,"y":270,"y2":340,"v":100},{"x":1040,"x2":1200,"y":270,"y2":340,"v":85},{"x":1200,"x2":1260,"y":270,"y2":340,"v":95},{"x":1260,"x2":1320,"y":270,"y2":340,"v":110},{"x":1320,"x2":1380,"y":270,"y2":340,"v":155},{"x":1380,"x2":1447,"y":270,"y2":340,"v":180},
{"x":0,"x2":100,"y":220,"y2":270,"v":3},{"x":100,"x2":200,"y":220,"y2":270,"v":2},{"x":200,"x2":260,"y":220,"y2":270,"v":0},{"x":260,"x2":400,"y":220,"y2":270,"v":0},{"x":400,"x2":480,"y":220,"y2":270,"v":2},{"x":480,"x2":560,"y":220,"y2":270,"v":5},{"x":560,"x2":640,"y":220,"y2":270,"v":20},{"x":640,"x2":720,"y":220,"y2":270,"v":55},{"x":720,"x2":880,"y":220,"y2":270,"v":80},{"x":880,"x2":1040,"y":220,"y2":270,"v":90},{"x":1040,"x2":1200,"y":220,"y2":270,"v":85},{"x":1200,"x2":1260,"y":220,"y2":270,"v":95},{"x":1260,"x2":1320,"y":220,"y2":270,"v":115},{"x":1320,"x2":1380,"y":220,"y2":270,"v":155},{"x":1380,"x2":1447,"y":220,"y2":270,"v":175},
{"x":0,"x2":100,"y":40,"y2":220,"v":2},{"x":100,"x2":200,"y":40,"y2":220,"v":0},{"x":200,"x2":260,"y":40,"y2":220,"v":0},{"x":260,"x2":400,"y":40,"y2":220,"v":0},{"x":400,"x2":480,"y":40,"y2":220,"v":5},{"x":480,"x2":560,"y":40,"y2":220,"v":25},{"x":560,"x2":640,"y":40,"y2":220,"v":45},{"x":640,"x2":720,"y":40,"y2":220,"v":80},{"x":720,"x2":880,"y":40,"y2":220,"v":120},{"x":880,"x2":1040,"y":40,"y2":220,"v":125},{"x":1040,"x2":1200,"y":40,"y2":220,"v":130},{"x":1200,"x2":1260,"y":40,"y2":220,"v":140},{"x":1260,"x2":1320,"y":40,"y2":220,"v":155},{"x":1320,"x2":1380,"y":40,"y2":220,"v":215},{"x":1380,"x2":1447,"y":40,"y2":220,"v":240},
{"x":0,"x2":100,"y":0,"y2":40,"v":2},{"x":100,"x2":200,"y":0,"y2":40,"v":0},{"x":200,"x2":260,"y":0,"y2":40,"v":0},{"x":260,"x2":400,"y":0,"y2":40,"v":0},{"x":400,"x2":480,"y":0,"y2":40,"v":3},{"x":480,"x2":560,"y":0,"y2":40,"v":15},{"x":560,"x2":640,"y":0,"y2":40,"v":30},{"x":640,"x2":720,"y":0,"y2":40,"v":60},{"x":720,"x2":880,"y":0,"y2":40,"v":90},{"x":880,"x2":1040,"y":0,"y2":40,"v":110},{"x":1040,"x2":1200,"y":0,"y2":40,"v":120},{"x":1200,"x2":1260,"y":0,"y2":40,"v":130},{"x":1260,"x2":1320,"y":0,"y2":40,"v":145},{"x":1320,"x2":1380,"y":0,"y2":40,"v":205},{"x":1380,"x2":1447,"y":0,"y2":40,"v":235}
],"la":[{"i":0,"j":3},{"i":66,"j":3},{"i":72,"j":19},{"i":74,"j":78},{"i":80,"j":91},{"i":80,"j":169},{"i":93,"j":179},{"i":125,"j":190},{"i":140,"j":221},{"i":160,"j":263},{"i":169,"j":288},{"i":181,"j":292},{"i":181,"j":318},{"i":195,"j":324},{"i":209,"j":351},{"i":214,"j":406},{"i":221,"j":435},{"i":227,"j":481},{"i":238,"j":496},{"i":315,"j":498},{"i":326,"j":508},{"i":329,"j":528},{"i":339,"j":543},{"i":365,"j":560},{"i":415,"j":569},{"i":552,"j":574},{"i":556,"j":585},{"i":577,"j":597},{"i":602,"j":607},{"i":628,"j":607},{"i":657,"j":625},{"i":686,"j":627},{"i":710,"j":643},{"i":714,"j":685},{"i":732,"j":698},{"i":746,"j":710},{"i":746,"j":734},{"i":766,"j":740},{"i":778,"j":752},{"i":781,"j":798},{"i":799,"j":813},{"i":849,"j":813},{"i":853,"j":832},{"i":877,"j":846},{"i":881,"j":878},{"i":946,"j":880},{"i":967,"j":920},{"i":969,"j":995},{"i":986,"j":999},{"i":994,"j":1087},{"i":1021,"j":1108},{"i":1025,"j":1129},{"i":1044,"j":1162},{"i":1075,"j":1183},{"i":1123,"j":1189},{"i":1130,"j":1225},{"i":1163,"j":1227},{"i":1188,"j":1242},{"i":1196,"j":1260},{"i":1238,"j":1269},{"i":1288,"j":1280},{"i":1294,"j":1299},{"i":1313,"j":1305},{"i":1330,"j":1328},{"i":1360,"j":1346},{"i":1368,"j":1388},{"i":1379,"j":1422},{"i":1397,"j":1441},{"i":1443,"j":1443}],
"lb":[{"i":0,"j":4},{"i":64,"j":4},{"i":70,"j":44},{"i":77,"j":110},{"i":80,"j":201},{"i":100,"j":217},{"i":104,"j":256},{"i":128,"j":259},{"i":138,"j":326},{"i":156,"j":329},{"i":161,"j":340},{"i":182,"j":346},{"i":200,"j":356},{"i":205,"j":385},{"i":222,"j":401},{"i":236,"j":418},{"i":253,"j":418},{"i":264,"j":453},{"i":285,"j":455},{"i":287,"j":469},{"i":302,"j":476},{"i":305,"j":515},{"i":328,"j":556},{"i":345,"j":574},{"i":416,"j":584},{"i":461,"j":592},{"i":548,"j":596},{"i":573,"j":605},{"i":689,"j":606},{"i":714,"j":629},{"i":735,"j":633},{"i":739,"j":640},{"i":805,"j":645},{"i":835,"j":650},{"i":845,"j":675},{"i":855,"j":697},{"i":876,"j":715},{"i":880,"j":736},{"i":892,"j":744},{"i":896,"j":793},{"i":905,"j":847},{"i":925,"j":872},{"i":959,"j":884},{"i":969,"j":892},{"i":969,"j":995},{"i":971,"j":1090},{"i":986,"j":1090},{"i":993,"j":1184},{"i":1083,"j":1188},{"i":1093,"j":1207},{"i":1162,"j":1212},{"i":1172,"j":1242},{"i":1184,"j":1250},{"i":1187,"j":1271},{"i":1269,"j":1273},{"i":1272,"j":1298},{"i":1344,"j":1300},{"i":1359,"j":1316},{"i":1362,"j":1398},{"i":1373,"j":1427},{"i":1385,"j":1439},{"i":1445,"j":1441}],
"lc":[{"i":2,"j":3},{"i":9,"j":45},{"i":70,"j":49},{"i":77,"j":78},{"i":91,"j":104},{"i":107,"j":111},{"i":130,"j":144},{"i":154,"j":160},{"i":164,"j":185},{"i":182,"j":203},{"i":206,"j":206},{"i":220,"j":239},{"i":221,"j":327},{"i":311,"j":336},{"i":326,"j":365},{"i":345,"j":386},{"i":415,"j":388},{"i":420,"j":398},{"i":478,"j":398},{"i":485,"j":458},{"i":494,"j":540},{"i":525,"j":557},{"i":531,"j":560},{"i":556,"j":587},{"i":576,"j":603},{"i":630,"j":609},{"i":659,"j":624},{"i":684,"j":626},{"i":709,"j":645},{"i":713,"j":686},{"i":730,"j":701},{"i":760,"j":704},{"i":763,"j":731},{"i":779,"j":750},{"i":781,"j":798},{"i":808,"j":821},{"i":845,"j":822},{"i":874,"j":845},{"i":879,"j":878},{"i":949,"j":888},{"i":959,"j":917},{"i":966,"j":983},{"i":982,"j":996},{"i":993,"j":1074},{"i":997,"j":1099},{"i":1015,"j":1122},{"i":1036,"j":1132},{"i":1038,"j":1161},{"i":1073,"j":1174},{"i":1094,"j":1190},{"i":1102,"j":1219},{"i":1181,"j":1229},{"i":1185,"j":1250},{"i":1222,"j":1258},{"i":1243,"j":1269},{"i":1290,"j":1279},{"i":1293,"j":1299},{"i":1338,"j":1306},{"i":1359,"j":1343},{"i":1363,"j":1397},{"i":1380,"j":1421},{"i":1398,"j":1440},{"i":1446,"j":1441}]},
"hconcat":[
{"width":576,"height":580.4,"title":{"text":"power and heat","offset":6.5},"layer":[{"data":{"name":"a"},"mark":{"type":"rect","strokeWidth":0.6},"encoding":{"x":{"field":"x","type":"quantitative","scale":{"domain":[0,1447],"nice":false},"axis":{"values":[0,200,400,600,800,1000,1200,1400],"format":"d","title":null,"grid":false,"domain":false,"tickColor":"#111","tickSize":7,"tickWidth":1.2,"labelFontSize":18.4,"labelColor":"#1a1a1a","labelPadding":3.5,"labelFont":"DejaVu Sans"}},"x2":{"field":"x2"},"y":{"field":"y","type":"quantitative","scale":{"domain":[0,1453.6],"nice":false},"axis":{"values":[0,200,400,600,800,1000,1200,1400],"format":"d","title":null,"grid":false,"domain":false,"tickColor":"#111","tickSize":7,"tickWidth":1.2,"labelFontSize":18.4,"labelColor":"#1a1a1a","labelPadding":5,"labelFont":"DejaVu Sans"}},"y2":{"field":"y2"},"fill":{"field":"v","type":"quantitative","scale":{"domain":[0,255],"range":["#000000","#ffffff"]},"legend":null},"stroke":{"field":"v","type":"quantitative","scale":{"domain":[0,255],"range":["#000000","#ffffff"]},"legend":null}}},{"data":{"name":"la"},"mark":{"type":"line","color":"white","strokeWidth":2.2},"encoding":{"x":{"field":"i","type":"quantitative"},"y":{"field":"j","type":"quantitative"}}},{"data":{"name":"f"},"mark":{"type":"rect","filled":false,"stroke":"#111","strokeWidth":1.3},"encoding":{"x":{"field":"x","type":"quantitative"},"x2":{"field":"x2"},"y":{"field":"y","type":"quantitative"},"y2":{"field":"y2"}}}]},
{"width":582.3,"height":587,"title":{"text":"power and gas","offset":8.5},"layer":[{"data":{"name":"b"},"mark":{"type":"rect","strokeWidth":0.6},"encoding":{"x":{"field":"x","type":"quantitative","scale":{"domain":[0,1447],"nice":false},"axis":{"values":[0,200,400,600,800,1000,1200,1400],"format":"d","title":null,"grid":false,"domain":false,"tickColor":"#111","tickSize":7,"tickWidth":1.2,"labelFontSize":18.4,"labelColor":"#1a1a1a","labelPadding":3.5,"labelFont":"DejaVu Sans"}},"x2":{"field":"x2"},"y":{"field":"y","type":"quantitative","scale":{"domain":[0,1447],"nice":false},"axis":{"values":[0,200,400,600,800,1000,1200,1400],"format":"d","title":null,"grid":false,"domain":false,"tickColor":"#111","tickSize":7,"tickWidth":1.2,"labelFontSize":18.4,"labelColor":"#1a1a1a","labelPadding":5,"labelFont":"DejaVu Sans"}},"y2":{"field":"y2"},"fill":{"field":"v","type":"quantitative","scale":{"domain":[0,255],"range":["#000000","#ffffff"]},"legend":null},"stroke":{"field":"v","type":"quantitative","scale":{"domain":[0,255],"range":["#000000","#ffffff"]},"legend":null}}},{"data":{"name":"lb"},"mark":{"type":"line","color":"white","strokeWidth":2.2},"encoding":{"x":{"field":"i","type":"quantitative"},"y":{"field":"j","type":"quantitative"}}},{"data":{"name":"f"},"mark":{"type":"rect","filled":false,"stroke":"#111","strokeWidth":1.3},"encoding":{"x":{"field":"x","type":"quantitative"},"x2":{"field":"x2"},"y":{"field":"y","type":"quantitative"},"y2":{"field":"y2"}}}]},
{"width":582,"height":587.4,"title":{"text":"heat and gas","offset":6.5},"layer":[{"data":{"name":"c"},"mark":{"type":"rect","strokeWidth":0.6},"encoding":{"x":{"field":"x","type":"quantitative","scale":{"domain":[0,1447],"nice":false},"axis":{"values":[0,200,400,600,800,1000,1200,1400],"format":"d","title":null,"grid":false,"domain":false,"tickColor":"#111","tickSize":7,"tickWidth":1.2,"labelFontSize":18.4,"labelColor":"#1a1a1a","labelPadding":3.5,"labelFont":"DejaVu Sans"}},"x2":{"field":"x2"},"y":{"field":"y","type":"quantitative","scale":{"domain":[0,1453.6],"nice":false},"axis":{"values":[0,200,400,600,800,1000,1200,1400],"format":"d","title":null,"grid":false,"domain":false,"tickColor":"#111","tickSize":7,"tickWidth":1.2,"labelFontSize":18.4,"labelColor":"#1a1a1a","labelPadding":5,"labelFont":"DejaVu Sans"}},"y2":{"field":"y2"},"fill":{"field":"v","type":"quantitative","scale":{"domain":[0,255],"range":["#000000","#ffffff"]},"legend":null},"stroke":{"field":"v","type":"quantitative","scale":{"domain":[0,255],"range":["#000000","#ffffff"]},"legend":null}}},{"data":{"name":"lc"},"mark":{"type":"line","color":"white","strokeWidth":2.2},"encoding":{"x":{"field":"i","type":"quantitative"},"y":{"field":"j","type":"quantitative"}}},{"data":{"name":"f"},"mark":{"type":"rect","filled":false,"stroke":"#111","strokeWidth":1.3},"encoding":{"x":{"field":"x","type":"quantitative"},"x2":{"field":"x2"},"y":{"field":"y","type":"quantitative"},"y2":{"field":"y2"}}}]}
]}
